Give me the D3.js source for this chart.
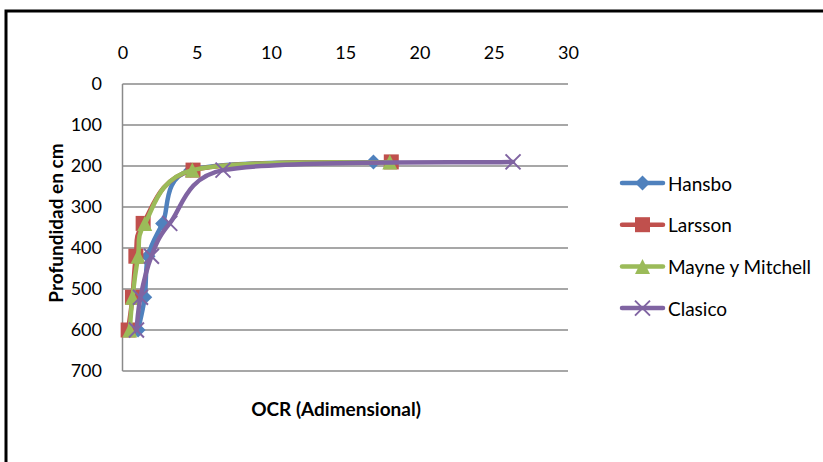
<!DOCTYPE html>
<html>
<head>
<meta charset="utf-8">
<script src="https://cdn.jsdelivr.net/npm/d3@7"></script>
<style>
  html, body { margin: 0; padding: 0; background: #fff; }
  svg { display: block; }
  text { font-family: Lato, "Open Sans", sans-serif; fill: #000; }
</style>
</head>
<body>
<svg id="chart" width="823" height="462"></svg>
<script>
// Depth of each sample (cm) and OCR values per method
const depths  = [600, 520, 420, 340, 210, 190];
const hansbo  = [1.05, 1.5, 1.72, 2.7, 4.6, 16.9];
const larsson = [0.38, 0.67, 0.9, 1.39, 4.75, 18.1];
const mayne   = [0.49, 0.67, 1.05, 1.5, 4.7, 18.0];
const clasico = [0.94, 1.21, 1.95, 3.18, 6.77, 26.3];

const seriesNames  = ["Hansbo", "Larsson", "Mayne y Mitchell", "Clasico"];
const seriesValues = [hansbo, larsson, mayne, clasico];
const seriesColors = ["#4F81BD", "#C0504D", "#9BBB59", "#8064A2"];
const seriesMarkers = ["diamond", "square", "triangle", "cross"];

const xTicks = [0, 5, 10, 15, 20, 25, 30];
const yTicks = [0, 100, 200, 300, 400, 500, 600, 700];

const svg = d3.select("#chart");

// outer chart frame
svg.append("rect")
  .attr("x", 6).attr("y", 11)
  .attr("width", 900).attr("height", 500)
  .attr("fill", "#fff")
  .attr("stroke", "#000").attr("stroke-width", 3);

const plot = { left: 122.5, right: 568, top: 84, bottom: 371 };

const x = d3.scaleLinear().domain([0, 30]).range([plot.left, plot.right]);
const y = d3.scaleLinear().domain([0, 700]).range([plot.top, plot.bottom]);

// horizontal gridlines
svg.append("g")
  .selectAll("line")
  .data(yTicks)
  .join("line")
  .attr("x1", plot.left).attr("x2", plot.right)
  .attr("y1", d => y(d)).attr("y2", d => y(d))
  .attr("stroke", "#8a8a8a").attr("stroke-width", 1.5);

// vertical axis line
svg.append("line")
  .attr("x1", plot.left).attr("x2", plot.left)
  .attr("y1", plot.top).attr("y2", plot.bottom)
  .attr("stroke", "#8a8a8a").attr("stroke-width", 1.5);

// x axis tick labels along the top
const xAxis = d3.axisTop(x).tickValues(xTicks).tickSize(0).tickPadding(0);
const gx = svg.append("g").attr("transform", "translate(0,59)").call(xAxis);
gx.select(".domain").remove();
gx.selectAll("text")
  .attr("font-family", "Lato, sans-serif")
  .attr("font-size", 18).attr("fill", "#000");

// y axis tick labels
const yAxis = d3.axisLeft(y).tickValues(yTicks).tickSize(0).tickPadding(0);
const gy = svg.append("g").attr("transform", "translate(102,0)").call(yAxis);
gy.select(".domain").remove();
gy.selectAll("text")
  .attr("font-family", "Lato, sans-serif")
  .attr("font-size", 18).attr("fill", "#000");

// axis titles
svg.append("text")
  .attr("x", 336).attr("y", 408)
  .attr("text-anchor", "middle").attr("dominant-baseline", "central")
  .attr("font-size", 19).attr("font-weight", "bold")
  .text("OCR (Adimensional)");

svg.append("text")
  .attr("transform", "translate(55,223) rotate(-90)")
  .attr("text-anchor", "middle").attr("dominant-baseline", "central")
  .attr("font-size", 19).attr("font-weight", "bold")
  .text("Profundidad en cm");

// marker drawing
function drawMarker(g, type, cx, cy, color) {
  if (type === "diamond") {
    const r = 7.5;
    g.append("path")
      .attr("d", `M${cx},${cy - r}L${cx + r},${cy}L${cx},${cy + r}L${cx - r},${cy}Z`)
      .attr("fill", color);
  } else if (type === "square") {
    const s = 15;
    g.append("rect")
      .attr("x", cx - s / 2).attr("y", cy - s / 2)
      .attr("width", s).attr("height", s)
      .attr("fill", color);
  } else if (type === "triangle") {
    const w = 15, h = 15;
    g.append("path")
      .attr("d", `M${cx},${cy - h / 2}L${cx + w / 2},${cy + h / 2}L${cx - w / 2},${cy + h / 2}Z`)
      .attr("fill", color);
  } else {
    const r = 7.5;
    g.append("path")
      .attr("d", `M${cx - r},${cy - r}L${cx + r},${cy + r}M${cx + r},${cy - r}L${cx - r},${cy + r}`)
      .attr("stroke", color).attr("stroke-width", 2).attr("fill", "none");
  }
}

// Smoothed-line curve: Bezier segments with Catmull-Rom style tangents (1/6 of
// the neighbour chord), each control offset capped at half the segment length
// so short segments next to long ones do not kink or overshoot.
class SmoothCurve {
  constructor(context) { this._context = context; }
  areaStart() {}
  areaEnd() {}
  lineStart() { this._pts = []; }
  point(px, py) { this._pts.push([+px, +py]); }
  lineEnd() {
    const p = this._pts, n = p.length, c = this._context;
    if (!n) return;
    c.moveTo(p[0][0], p[0][1]);
    for (let i = 0; i < n - 1; i++) {
      const p0 = p[Math.max(i - 1, 0)], p1 = p[i], p2 = p[i + 1], p3 = p[Math.min(i + 2, n - 1)];
      const half = Math.hypot(p2[0] - p1[0], p2[1] - p1[1]) / 2;
      const cap = v => {
        const l = Math.hypot(v[0], v[1]);
        return l > half ? [v[0] * half / l, v[1] * half / l] : v;
      };
      const a = cap([(p2[0] - p0[0]) / 6, (p2[1] - p0[1]) / 6]);
      const b = cap([(p3[0] - p1[0]) / 6, (p3[1] - p1[1]) / 6]);
      c.bezierCurveTo(p1[0] + a[0], p1[1] + a[1], p2[0] - b[0], p2[1] - b[1], p2[0], p2[1]);
    }
  }
}

const line = d3.line()
  .x(d => x(d[0]))
  .y(d => y(d[1]))
  .curve(ctx => new SmoothCurve(ctx));

// each series: smoothed line, then its markers
seriesValues.forEach((vals, i) => {
  const pts = vals.map((v, j) => [v, depths[j]]).reverse();
  const g = svg.append("g");
  g.append("path")
    .datum(pts)
    .attr("d", line)
    .attr("fill", "none")
    .attr("stroke", seriesColors[i])
    .attr("stroke-width", 4.5)
    .attr("stroke-linejoin", "round")
    .attr("stroke-linecap", "round");
  pts.forEach(p => drawMarker(g, seriesMarkers[i], x(p[0]), y(p[1]), seriesColors[i]));
});

// legend
const legend = svg.append("g");
seriesNames.forEach((name, i) => {
  const ly = 183 + i * 41.7;
  const g = legend.append("g");
  g.append("line")
    .attr("x1", 622).attr("x2", 663)
    .attr("y1", ly).attr("y2", ly)
    .attr("stroke", seriesColors[i]).attr("stroke-width", 4.5)
    .attr("stroke-linecap", "round");
  drawMarker(g, seriesMarkers[i], 642.5, ly, seriesColors[i]);
  g.append("text")
    .attr("x", 668).attr("y", ly)
    .attr("dominant-baseline", "central")
    .attr("font-size", 19)
    .text(name);
});
</script>
</body>
</html>
